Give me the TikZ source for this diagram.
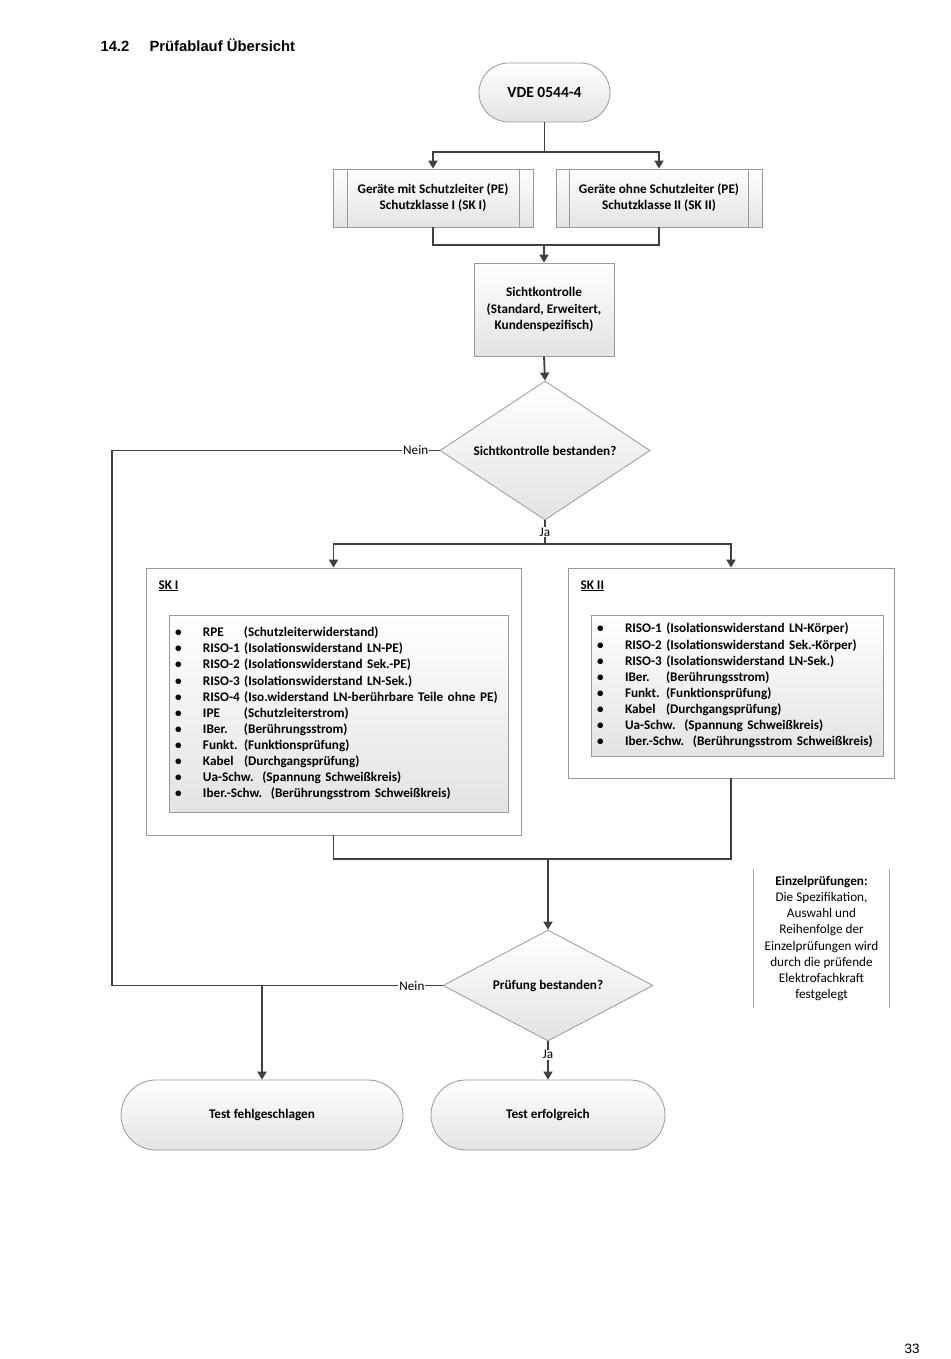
\documentclass[tikz,border=0pt]{standalone}
\usepackage{fontspec}
\setmainfont{Carlito}
\newfontfamily\arialfont{Liberation Sans}
\usetikzlibrary{shapes.geometric,arrows.meta}
\newcommand{\fs}{\fontsize{13.2}{16.1}\selectfont}
\newcommand{\bul}{\makebox[28pt][l]{\textbullet}}
\newcommand{\kz}[1]{\makebox[41pt][l]{#1}}

\begin{document}
\begin{tikzpicture}[
  x=1pt,y=-1pt,
  font=\fs,
  >={Triangle[width=9pt,length=8pt]},
  grad/.style={top color=white,bottom color=black!11},
  box/.style={draw=black!40,line width=0.8pt,align=center,inner sep=2pt,font=\fs\bfseries},
  term/.style={box,grad,rounded corners=#1},
  proc/.style={box,grad},
  dec/.style={box,grad,diamond,aspect=1.5,inner sep=0pt},
  frame/.style={box,fill=white},
  lst/.style={box,grad,align=left,inner xsep=6pt},
  line/.style={draw=black!75,line width=1.8pt},
  arr/.style={line,->},
  lbl/.style={fill=white,inner sep=1pt,font=\fs},
  bar/.style={draw=black!35,line width=1pt}
]
\path[fill=white,use as bounding box] (0,0) rectangle (950,1359);
\node[anchor=base west,font=\arialfont\bfseries\fontsize{14.8}{18}\selectfont] (title) at (97,52) {\makebox[49pt][l]{14.2}Prüfablauf Übersicht};
\node[term=29.5pt,minimum width=131pt,minimum height=59pt,font=\fontsize{15.5}{18}\selectfont\bfseries] (start) at (544.5,92.5) {VDE 0544-4};
\node[proc,minimum width=200pt,minimum height=58pt] (sk1box) at (433,198) {Geräte mit Schutzleiter (PE)\\ Schutzklasse I (SK I)};
\node[proc,minimum width=206pt,minimum height=58pt] (sk2box) at (659,198) {Geräte ohne Schutzleiter (PE)\\ Schutzklasse II (SK II)};
\draw[bar,line width=0.8pt,draw=black!40] ([xshift=15pt]sk1box.north west) -- ([xshift=15pt]sk1box.south west);
\draw[bar,line width=0.8pt,draw=black!40] ([xshift=-14pt]sk1box.north east) -- ([xshift=-14pt]sk1box.south east);
\draw[bar,line width=0.8pt,draw=black!40] ([xshift=14pt]sk2box.north west) -- ([xshift=14pt]sk2box.south west);
\draw[bar,line width=0.8pt,draw=black!40] ([xshift=-14pt]sk2box.north east) -- ([xshift=-14pt]sk2box.south east);
\node[proc,minimum width=140pt,minimum height=93pt] (sicht) at (544,309.5) {Sichtkontrolle\\ (Standard, Erweitert,\\ Kundenspezifisch)};
\node[dec,minimum width=210pt,minimum height=139pt] (d1) at (545,450.5) {Sichtkontrolle bestanden?};
\node[frame,minimum width=375pt,minimum height=267pt] (sk1) at (333.5,701.5) {};
\node[anchor=base west,font=\fs\bfseries] (sk1lbl) at (155,589) {\underline{SK I}};
\node[lst,text width=327pt,minimum height=197pt] (sk1list) at (338.5,713.5) {%
\bul\kz{RPE}(Schutzleiterwiderstand)\\
\bul RISO-1 (Isolationswiderstand LN-PE)\\
\bul RISO-2 (Isolationswiderstand Sek.-PE)\\
\bul RISO-3 (Isolationswiderstand LN-Sek.)\\
\bul RISO-4 (Iso.widerstand LN-berührbare Teile ohne PE)\\
\bul\kz{IPE}(Schutzleiterstrom)\\
\bul\kz{IBer.}(Berührungsstrom)\\
\bul\kz{Funkt.}(Funktionsprüfung)\\
\bul\kz{Kabel}(Durchgangsprüfung)\\
\bul Ua-Schw.\ \ (Spannung Schweißkreis)\\
\bul Iber.-Schw.\ \ (Berührungsstrom Schweißkreis)};
\node[frame,minimum width=326pt,minimum height=210pt] (sk2) at (731,673) {};
\node[anchor=base west,font=\fs\bfseries] (sk2lbl) at (577,589) {\underline{SK II}};
\node[lst,text width=280pt,minimum height=141pt] (sk2list) at (737,685.5) {%
\bul RISO-1 (Isolationswiderstand LN-Körper)\\
\bul RISO-2 (Isolationswiderstand Sek.-Körper)\\
\bul RISO-3 (Isolationswiderstand LN-Sek.)\\
\bul\kz{IBer.}(Berührungsstrom)\\
\bul\kz{Funkt.}(Funktionsprüfung)\\
\bul\kz{Kabel}(Durchgangsprüfung)\\
\bul Ua-Schw.\ \ (Spannung Schweißkreis)\\
\bul Iber.-Schw.\ \ (Berührungsstrom Schweißkreis)};
\node[dec,minimum width=210pt,minimum height=111pt,aspect=1.9] (d2) at (548,985.5) {Prüfung bestanden?};
\node[term=35pt,minimum width=282pt,minimum height=70pt] (fehl) at (262,1115) {Test fehlgeschlagen};
\node[term=35pt,minimum width=234pt,minimum height=70pt] (ok) at (548,1115) {Test erfolgreich};
\node[minimum width=135pt,minimum height=139pt,align=center,inner sep=0pt] (note) at (821.5,938.5) {\textbf{Einzelprüfungen:}\\ Die Spezifikation,\\ Auswahl und\\ Reihenfolge der\\ Einzelprüfungen wird\\ durch die prüfende\\ Elektrofachkraft\\ festgelegt};
\draw[bar] (note.north west) -- (note.south west);
\draw[bar] (note.north east) -- (note.south east);
\node[anchor=base,font=\arialfont\fontsize{13.5}{16}\selectfont] (page) at (912,1353) {33};
\coordinate (split1) at (544.5,152);
\coordinate (join1) at (544,245);
\coordinate (split2) at (545,544);
\coordinate (join2) at (548,859);
\coordinate (back) at (112,450.5);
\coordinate (nein) at (262,985.5);
\draw[line] (start.south) -- (split1);
\draw[arr] (split1) -| (sk1box.north);
\draw[arr] (split1) -| (sk2box.north);
\draw[line] (sk1box.south) |- (join1) -| (sk2box.south);
\draw[arr] (join1) -- (sicht.north);
\draw[arr] (sicht.south) -- (d1.north);
\draw[line] (d1.west) -- node[lbl,pos=0.073]{Nein} (back) |- (nein);
\draw[line] (d1.south) -- node[lbl]{Ja} (split2);
\draw[arr] (split2) -| (sk1.north);
\draw[arr] (split2) -| (sk2.north);
\draw[line] (sk1.south) |- (join2) -| (sk2.south);
\draw[arr] (join2) -- (d2.north);
\draw[line] (d2.west) -- node[lbl,pos=0.17]{Nein} (nein);
\draw[arr] (nein) -- (fehl.north);
\draw[arr] (d2.south) -- node[lbl,pos=0.35]{Ja} (ok.north);
\end{tikzpicture}
\end{document}
